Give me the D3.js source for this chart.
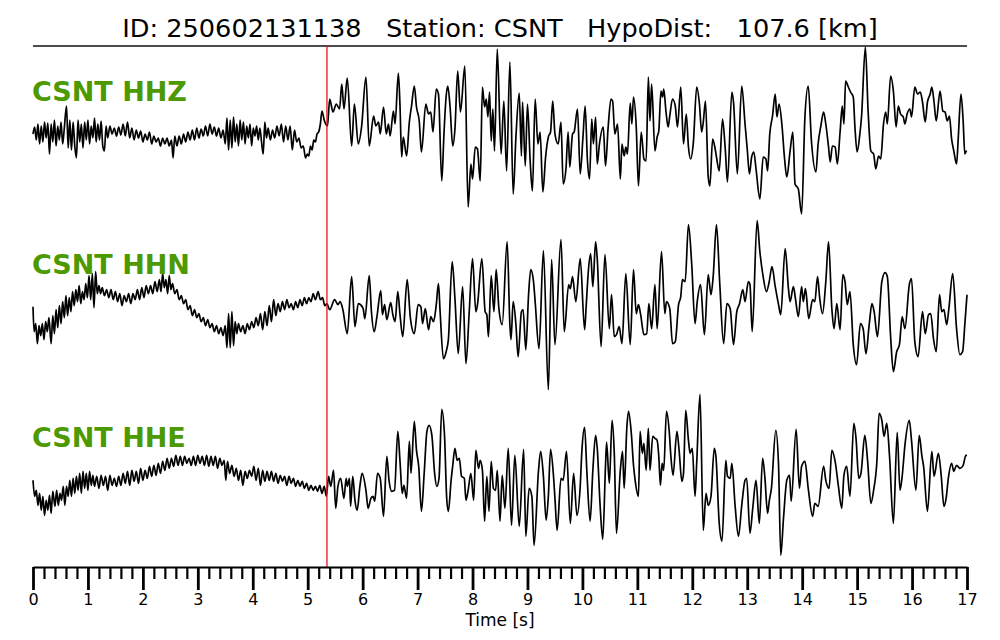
<!DOCTYPE html>
<html><head><meta charset="utf-8">
<script src="https://cdn.jsdelivr.net/npm/d3@7"></script>
<style>
body{margin:0;background:#fff;}
svg{display:block;font-family:"DejaVu Sans",sans-serif;}
</style></head><body>
<svg id="c" width="1000" height="640"></svg>
<script>
const titleText = "ID: 250602131138   Station: CSNT   HypoDist:   107.6 [km]";
const channels = ["CSNT HHZ", "CSNT HHN", "CSNT HHE"];
const pickTime = 5.35;
const majorTicks = [0,1,2,3,4,5,6,7,8,9,10,11,12,13,14,15,16,17];
const xLabel = "Time [s]";

// [time (s), amplitude] pairs
const hhz = [
[0.00,-2],[0.03,5],[0.06,-8],[0.09,8],[0.12,-12],[0.15,6],[0.18,-10],[0.21,10],[0.24,-6],[0.27,9],[0.30,-22],[0.33,8],[0.36,-10],[0.39,12],[0.42,-14],[0.45,6],[0.48,-8],[0.51,10],[0.54,-12],[0.57,4],[0.61,26],[0.64,-16],[0.67,12],[0.70,-18],[0.73,10],[0.76,-14],[0.79,-26],[0.82,12],[0.85,-10],[0.88,8],[0.91,-16],[0.94,10],[0.97,-8],[1.00,12],[1.03,-12],[1.06,6],[1.09,-6],[1.12,14],[1.15,-10],[1.18,8],[1.21,-8],[1.24,11],[1.27,-14],[1.30,-19],[1.33,6],[1.36,-6],[1.40,6],[1.44,-2],[1.48,4],[1.52,-4],[1.56,5],[1.60,-3],[1.64,8],[1.68,-4],[1.72,10],[1.76,-6],[1.80,4],[1.84,-8],[1.88,2],[1.92,-6],[1.96,1],[2.00,-10],[2.04,-2],[2.08,-8],[2.12,0],[2.16,-12],[2.20,-4],[2.24,-10],[2.28,-6],[2.32,-14],[2.36,-6],[2.40,-12],[2.44,-6],[2.48,-14],[2.52,-8],[2.55,-26],[2.58,-4],[2.62,-14],[2.66,-4],[2.70,-12],[2.74,-2],[2.78,-10],[2.82,0],[2.86,-8],[2.90,2],[2.94,-8],[2.98,4],[3.02,-6],[3.06,3],[3.10,-4],[3.14,6],[3.18,-4],[3.22,8],[3.26,-2],[3.30,5],[3.34,-4],[3.38,4],[3.42,-6],[3.46,2],[3.50,-12],[3.53,14],[3.56,-18],[3.59,12],[3.62,-16],[3.65,15],[3.68,-10],[3.71,8],[3.74,-14],[3.77,12],[3.80,-8],[3.83,10],[3.86,-12],[3.89,6],[3.92,-6],[3.95,8],[3.98,-14],[4.01,4],[4.04,-4],[4.07,6],[4.10,-8],[4.13,4],[4.16,-10],[4.19,-22],[4.22,10],[4.25,-6],[4.28,4],[4.32,-8],[4.36,2],[4.40,-6],[4.44,6],[4.48,-4],[4.52,8],[4.56,-10],[4.60,6],[4.64,-8],[4.68,6],[4.72,-18],[4.76,2],[4.80,-10],[4.84,-6],[4.88,-16],[4.92,-14],[4.96,-26],[4.99,-22],[5.02,-24],[5.05,-14],[5.08,-18],[5.11,-8],[5.14,-10],[5.17,-2],[5.20,0],[5.23,8],[5.26,21],[5.30,12],[5.36,6],[5.40,33],[5.46,20],[5.52,28],[5.58,23],[5.62,48],[5.66,23],[5.72,54],
[5.80,-14],[5.85,28],[5.92,-12],[5.98,5],[6.06,55],[6.12,-14],[6.20,16],[6.24,6],[6.29,10],[6.32,-2],[6.38,25],[6.43,-2],[6.47,8],[6.50,-4],[6.56,21],[6.59,8],[6.65,59],[6.68,26],[6.71,-25],[6.74,-5],[6.80,-24],[6.85,10],[6.89,26],[6.94,46],[6.98,25],[7.03,11],[7.07,-20],[7.15,28],[7.20,18],[7.24,20],[7.28,0],[7.34,43],[7.38,38],[7.44,-49],[7.48,-2],[7.52,36],[7.55,46],[7.59,26],[7.64,-14],[7.68,3],[7.73,61],[7.78,20],[7.86,66],[7.92,-75],[7.97,-32],[8.00,-47],[8.05,-15],[8.09,-17],[8.14,-49],[8.18,45],[8.22,25],[8.25,33],[8.28,15],[8.31,40],[8.34,-9],[8.37,23],[8.40,-19],[8.45,83],[8.52,-22],[8.57,31],[8.62,-39],[8.68,70],[8.74,-62],[8.79,-5],[8.85,39],[8.89,-24],[8.91,30],[8.96,-34],[9.00,28],[9.05,-30],[9.09,-59],[9.14,33],[9.19,-12],[9.23,0],[9.28,-60],[9.33,-25],[9.38,-5],[9.42,0],[9.46,31],[9.50,-2],[9.56,-12],[9.61,10],[9.65,-52],[9.70,-37],[9.74,0],[9.77,-35],[9.82,-2],[9.85,0],[9.91,23],[9.96,-42],[10.01,-5],[10.05,26],[10.09,-27],[10.13,-47],[10.17,13],[10.20,-12],[10.24,15],[10.27,-32],[10.31,-12],[10.38,5],[10.42,-34],[10.47,6],[10.52,33],[10.55,31],[10.59,-2],[10.64,8],[10.69,-47],[10.72,-12],[10.76,-24],[10.79,-15],[10.82,-22],[10.87,29],[10.90,8],[10.93,35],[10.98,5],[11.02,-54],[11.07,0],[11.12,-27],[11.16,-29],[11.20,55],[11.23,11],[11.26,48],[11.32,-19],[11.36,-5],[11.39,1],[11.43,41],[11.46,35],[11.48,43],[11.52,21],[11.56,5],[11.59,16],[11.64,33],[11.69,26],[11.73,5],[11.79,45],[11.84,-12],[11.89,18],[11.93,-15],[11.97,-27],[12.02,-10],[12.08,45],[12.13,28],[12.17,0],[12.20,10],[12.24,31],[12.29,-45],[12.32,-54],[12.37,-7],[12.41,-15],[12.44,-25],[12.49,-39],[12.55,13],[12.60,-17],[12.64,-50],[12.72,40],[12.75,30],[12.82,-42],[12.90,46],[12.96,8],[13.00,-17],[13.04,-42],[13.08,-25],[13.12,-20],[13.16,-37],[13.23,-67],[13.29,-25],[13.34,-27],[13.37,-39],[13.41,-2],[13.46,16],[13.51,38],[13.54,15],[13.58,28],[13.63,8],[13.68,-27],[13.72,-45],[13.78,-19],[13.83,0],[13.87,-52],[13.93,-57],[13.99,-82],[14.05,15],[14.11,46],[14.17,-10],[14.25,-40],[14.29,-12],[14.34,6],[14.39,20],[14.43,8],[14.48,-15],[14.51,-30],[14.55,-14],[14.60,-15],[14.64,-32],[14.69,0],[14.73,26],[14.76,8],[14.79,51],[14.84,45],[14.88,40],[14.93,35],[14.96,5],[15.00,-20],[15.05,-2],[15.08,15],[15.15,85],[15.20,21],[15.25,-19],[15.30,-22],[15.34,-37],[15.39,-24],[15.43,-27],[15.48,8],[15.52,20],[15.55,8],[15.61,56],[15.66,41],[15.71,5],[15.75,26],[15.79,18],[15.84,15],[15.87,8],[15.91,18],[15.96,23],[15.99,15],[16.05,45],[16.10,38],[16.15,40],[16.19,30],[16.24,10],[16.28,30],[16.33,38],[16.36,45],[16.40,30],[16.44,11],[16.51,41],[16.56,21],[16.60,20],[16.64,11],[16.68,16],[16.72,-7],[16.76,-19],[16.81,-32],[16.84,-7],[16.89,38],[16.93,11],[16.96,-22],[16.99,-19],[17.00,-19]
];

const hhn = [
[0.00,5],[0.02,-20],[0.05,-12],[0.08,-32],[0.11,-14],[0.14,-24],[0.17,-12],[0.20,-28],[0.23,-10],[0.26,-20],[0.29,-6],[0.33,-32],[0.36,-4],[0.39,-22],[0.42,2],[0.45,-16],[0.48,6],[0.51,-12],[0.54,10],[0.57,-6],[0.60,16],[0.63,-4],[0.66,14],[0.69,0],[0.72,20],[0.75,6],[0.78,22],[0.81,10],[0.84,26],[0.87,8],[0.90,20],[0.93,12],[0.96,28],[0.99,14],[1.02,36],[1.05,12],[1.08,38],[1.11,4],[1.14,40],[1.17,18],[1.20,26],[1.23,18],[1.26,24],[1.30,16],[1.34,22],[1.38,14],[1.42,22],[1.46,12],[1.50,20],[1.54,10],[1.58,18],[1.62,6],[1.66,16],[1.70,10],[1.74,18],[1.78,8],[1.82,18],[1.86,12],[1.90,22],[1.94,12],[1.98,24],[2.02,14],[2.06,26],[2.10,18],[2.14,26],[2.18,18],[2.22,30],[2.26,20],[2.30,32],[2.33,20],[2.36,38],[2.39,24],[2.42,32],[2.45,18],[2.48,36],[2.51,22],[2.54,28],[2.58,18],[2.62,22],[2.66,12],[2.70,16],[2.74,8],[2.78,12],[2.82,2],[2.86,6],[2.90,-4],[2.94,2],[2.98,-6],[3.02,-2],[3.06,-10],[3.10,-6],[3.14,-14],[3.18,-8],[3.22,-16],[3.26,-12],[3.30,-20],[3.34,-14],[3.38,-22],[3.42,-16],[3.46,-24],[3.50,-14],[3.53,-36],[3.56,-2],[3.59,-36],[3.62,0],[3.65,-34],[3.68,-10],[3.71,-22],[3.74,-12],[3.78,-20],[3.82,-14],[3.86,-22],[3.90,-12],[3.94,-18],[3.98,-10],[4.02,-16],[4.06,-6],[4.10,-14],[4.14,-2],[4.18,-18],[4.22,0],[4.26,-14],[4.30,6],[4.34,-10],[4.38,12],[4.42,-4],[4.46,8],[4.50,0],[4.54,10],[4.58,2],[4.62,12],[4.66,4],[4.70,8],[4.74,2],[4.78,10],[4.82,4],[4.86,12],[4.90,6],[4.94,14],[4.98,8],[5.02,14],[5.06,10],[5.10,18],[5.14,12],[5.19,20],[5.23,12],[5.27,14],[5.31,6],[5.35,8],[5.40,2],[5.49,12],[5.55,7],[5.59,10],[5.64,2],[5.72,-22],
[5.80,35],[5.86,-15],[5.92,8],[5.96,7],[6.01,3],[6.04,-7],[6.12,36],[6.16,0],[6.21,-20],[6.26,-5],[6.33,21],[6.36,-3],[6.40,7],[6.44,-8],[6.51,9],[6.55,-3],[6.59,-10],[6.64,20],[6.68,-3],[6.73,-25],[6.81,32],[6.87,-7],[6.94,-22],[7.01,7],[7.06,5],[7.09,-12],[7.14,3],[7.20,-18],[7.24,-5],[7.29,-10],[7.34,7],[7.38,28],[7.41,0],[7.47,-47],[7.52,-40],[7.56,-28],[7.63,50],[7.68,13],[7.74,-42],[7.82,25],[7.88,-52],[7.94,0],[8.00,53],[8.06,0],[8.09,7],[8.17,53],[8.23,0],[8.26,-3],[8.29,-25],[8.34,36],[8.39,0],[8.43,42],[8.48,3],[8.54,-13],[8.63,70],[8.68,-13],[8.70,-28],[8.74,10],[8.79,-13],[8.83,-45],[8.89,0],[8.92,2],[8.97,-38],[9.02,17],[9.06,42],[9.11,30],[9.14,10],[9.21,-37],[9.29,61],[9.38,-78],[9.44,52],[9.50,-33],[9.61,72],[9.67,-20],[9.75,27],[9.78,23],[9.82,35],[9.88,10],[9.96,53],[10.04,-18],[10.07,7],[10.11,42],[10.15,58],[10.19,25],[10.24,70],[10.27,53],[10.34,-35],[10.41,57],[10.49,-17],[10.53,17],[10.58,-25],[10.62,-23],[10.67,-15],[10.72,-32],[10.79,38],[10.87,-33],[10.93,42],[10.98,-2],[11.02,7],[11.06,-3],[11.12,-23],[11.17,-22],[11.21,8],[11.26,-17],[11.32,27],[11.36,-17],[11.44,60],[11.50,-2],[11.53,10],[11.59,3],[11.64,-32],[11.69,-30],[11.75,7],[11.79,15],[11.82,32],[11.87,30],[11.93,87],[11.99,47],[12.05,-12],[12.09,10],[12.15,27],[12.22,-23],[12.29,37],[12.34,17],[12.38,35],[12.44,87],[12.50,28],[12.57,-32],[12.63,8],[12.69,3],[12.75,-33],[12.81,0],[12.86,8],[12.92,22],[12.96,10],[13.02,30],[13.05,27],[13.09,-20],[13.18,91],[13.23,60],[13.29,35],[13.35,20],[13.40,30],[13.45,45],[13.51,25],[13.57,7],[13.61,-3],[13.69,63],[13.75,23],[13.78,10],[13.84,25],[13.88,12],[13.93,-5],[13.99,25],[14.02,10],[14.06,23],[14.12,-7],[14.19,12],[14.23,10],[14.28,35],[14.32,13],[14.37,-2],[14.43,30],[14.48,70],[14.54,3],[14.58,-17],[14.63,8],[14.69,-18],[14.74,37],[14.78,30],[14.82,7],[14.87,20],[14.93,-33],[14.99,-53],[15.06,-12],[15.11,-17],[15.16,-42],[15.22,-13],[15.27,8],[15.31,0],[15.37,-25],[15.45,30],[15.51,39],[15.55,35],[15.61,-25],[15.66,-60],[15.72,-40],[15.77,-33],[15.82,-5],[15.87,-17],[15.95,27],[15.99,33],[16.05,-30],[16.11,-45],[16.19,0],[16.24,-22],[16.30,-3],[16.34,-2],[16.39,-27],[16.44,-40],[16.50,17],[16.54,0],[16.58,2],[16.63,-13],[16.67,3],[16.74,38],[16.81,-17],[16.87,-43],[16.92,-40],[16.96,-13],[17.00,17]
];

const hhe = [
[0.00,3],[0.03,-13],[0.06,-7],[0.09,-22],[0.12,-10],[0.15,-27],[0.18,-13],[0.21,-32],[0.24,-17],[0.27,-27],[0.30,-12],[0.33,-30],[0.36,-8],[0.40,-23],[0.43,-7],[0.46,-22],[0.49,-10],[0.52,-17],[0.55,-3],[0.58,-22],[0.61,-3],[0.64,-13],[0.67,3],[0.70,-13],[0.73,5],[0.76,-10],[0.79,7],[0.82,-7],[0.85,10],[0.88,-10],[0.91,12],[0.94,-5],[0.97,10],[1.00,-7],[1.03,12],[1.06,-2],[1.09,8],[1.12,-3],[1.16,7],[1.20,-5],[1.24,8],[1.28,-2],[1.32,7],[1.36,-7],[1.40,8],[1.44,-2],[1.48,5],[1.52,-3],[1.56,7],[1.60,-2],[1.64,10],[1.68,0],[1.72,12],[1.76,-2],[1.80,13],[1.84,2],[1.88,12],[1.92,0],[1.96,15],[2.00,3],[2.04,13],[2.08,5],[2.12,17],[2.16,7],[2.20,18],[2.24,8],[2.28,20],[2.32,10],[2.36,22],[2.40,13],[2.44,25],[2.48,15],[2.52,25],[2.56,17],[2.60,28],[2.64,18],[2.68,27],[2.72,18],[2.76,27],[2.80,20],[2.84,25],[2.88,18],[2.92,27],[2.96,18],[3.00,28],[3.04,20],[3.08,27],[3.12,18],[3.16,28],[3.20,17],[3.24,27],[3.28,18],[3.32,27],[3.36,15],[3.40,25],[3.44,18],[3.48,23],[3.51,3],[3.54,22],[3.58,10],[3.62,18],[3.66,7],[3.70,15],[3.74,3],[3.78,13],[3.82,-2],[3.86,12],[3.90,5],[3.94,13],[3.98,7],[4.02,17],[4.06,3],[4.10,15],[4.14,-2],[4.18,13],[4.22,2],[4.26,12],[4.30,3],[4.34,12],[4.38,2],[4.42,10],[4.46,0],[4.50,8],[4.54,2],[4.58,7],[4.62,-2],[4.66,7],[4.70,0],[4.74,5],[4.78,-3],[4.82,3],[4.86,-3],[4.90,2],[4.94,-5],[4.98,0],[5.02,-7],[5.06,-2],[5.10,-7],[5.14,-3],[5.18,-8],[5.22,-2],[5.26,-10],[5.30,-3],[5.34,-13],[5.38,7],[5.42,-3],[5.47,13],[5.51,-25],[5.55,-3],[5.60,5],[5.66,-15],[5.70,5],[5.72,-3],[5.76,5],
[5.78,-23],[5.82,7],[5.86,-17],[5.90,-27],[5.95,-3],[5.99,10],[6.06,-7],[6.10,-25],[6.15,-15],[6.19,-13],[6.22,-18],[6.27,10],[6.32,5],[6.38,-33],[6.44,27],[6.48,3],[6.53,-8],[6.58,-7],[6.64,52],[6.68,22],[6.72,-10],[6.75,-2],[6.80,-15],[6.85,42],[6.88,10],[6.94,62],[6.98,33],[7.02,17],[7.07,-28],[7.12,10],[7.17,52],[7.21,58],[7.26,48],[7.31,10],[7.35,-3],[7.39,5],[7.44,74],[7.49,48],[7.53,-15],[7.56,-28],[7.61,3],[7.64,18],[7.68,35],[7.72,23],[7.76,25],[7.80,7],[7.85,5],[7.88,-17],[7.92,-7],[7.97,10],[8.02,-17],[8.06,33],[8.11,15],[8.14,23],[8.18,13],[8.22,-38],[8.26,7],[8.30,-28],[8.34,22],[8.38,-5],[8.42,-7],[8.45,13],[8.50,-38],[8.54,8],[8.59,-25],[8.65,35],[8.71,-42],[8.77,28],[8.85,-43],[8.93,34],[8.97,-53],[9.03,-5],[9.08,-13],[9.12,-62],[9.20,12],[9.24,32],[9.29,7],[9.34,-37],[9.38,-13],[9.42,34],[9.47,10],[9.50,-15],[9.54,-47],[9.61,5],[9.65,3],[9.71,32],[9.78,-40],[9.84,10],[9.90,-32],[9.96,-3],[9.99,32],[10.04,56],[10.08,13],[10.14,-38],[10.19,13],[10.24,48],[10.27,35],[10.32,-20],[10.37,-56],[10.42,17],[10.44,41],[10.49,0],[10.54,63],[10.58,30],[10.62,-50],[10.69,13],[10.73,32],[10.76,-5],[10.81,57],[10.84,72],[10.89,50],[10.93,18],[10.96,3],[11.02,-13],[11.05,52],[11.09,30],[11.12,40],[11.16,13],[11.20,55],[11.23,13],[11.28,47],[11.32,45],[11.36,43],[11.39,27],[11.42,-2],[11.45,20],[11.48,13],[11.53,72],[11.58,52],[11.61,27],[11.65,8],[11.72,52],[11.76,33],[11.81,2],[11.84,10],[11.88,73],[11.93,43],[11.96,30],[12.00,35],[12.05,-13],[12.08,20],[12.14,89],[12.20,-47],[12.25,-10],[12.29,-22],[12.34,-13],[12.40,35],[12.43,27],[12.49,-40],[12.54,-58],[12.61,23],[12.64,7],[12.69,5],[12.72,20],[12.78,-23],[12.84,-53],[12.90,-22],[12.96,3],[12.99,5],[13.05,-50],[13.10,-25],[13.16,3],[13.22,-40],[13.28,25],[13.32,7],[13.37,-30],[13.40,-18],[13.44,-5],[13.52,53],[13.57,18],[13.61,-72],[13.66,-35],[13.72,3],[13.77,8],[13.80,-18],[13.89,54],[13.95,-5],[13.99,17],[14.05,22],[14.11,-5],[14.19,-33],[14.23,-20],[14.29,-23],[14.39,17],[14.43,3],[14.49,-5],[14.54,33],[14.60,22],[14.66,-3],[14.72,-25],[14.76,8],[14.81,17],[14.87,-13],[14.94,60],[14.98,45],[15.03,5],[15.07,10],[15.14,48],[15.19,23],[15.25,-20],[15.30,-7],[15.36,22],[15.40,70],[15.45,63],[15.49,47],[15.54,60],[15.59,27],[15.66,-40],[15.73,51],[15.78,-7],[15.82,7],[15.87,38],[15.95,63],[15.99,43],[16.07,-7],[16.13,48],[16.18,27],[16.21,17],[16.28,-28],[16.36,32],[16.40,7],[16.48,30],[16.53,8],[16.58,-23],[16.62,-15],[16.66,5],[16.72,20],[16.76,12],[16.81,18],[16.87,15],[16.93,18],[16.98,28],[17.00,28]
];

const traces = [hhz, hhn, hhe];

// ---- layout ----
const plotLeft = 33, plotRight = 967, plotTop = 46, axisY = 567;
const centers = [132, 311.7, 483.3];
const labelBaselines = [101, 274, 447];
const green = "#4c9900";

const svg = d3.select("#c");
const x = d3.scaleLinear().domain([0, 17]).range([plotLeft, plotRight]);

// title
svg.append("text")
  .attr("x", (plotLeft + plotRight) / 2).attr("y", 37)
  .attr("text-anchor", "middle")
  .style("white-space", "pre")
  .attr("font-size", 25.6)
  .attr("fill", "#000")
  .text(titleText);

// top line
svg.append("line")
  .attr("x1", plotLeft).attr("x2", plotRight)
  .attr("y1", plotTop).attr("y2", plotTop)
  .attr("stroke", "#111").attr("stroke-width", 1.5);

// traces
traces.forEach((data, i) => {
  const y = d3.scaleLinear().domain([-100, 100]).range([centers[i] + 100, centers[i] - 100]);
  const line = d3.line().x(d => x(d[0])).y(d => y(d[1])).curve(d3.curveMonotoneX);
  svg.append("path")
    .datum(data)
    .attr("d", line)
    .attr("fill", "none")
    .attr("stroke", "#000")
    .attr("stroke-width", 1.7)
    .attr("stroke-linejoin", "round");
  svg.append("text")
    .attr("x", plotLeft - 1).attr("y", labelBaselines[i])
    .attr("font-size", 27).attr("font-weight", "bold")
    .attr("fill", green)
    .text(channels[i]);
});

// pick line
svg.append("line")
  .attr("x1", x(pickTime)).attr("x2", x(pickTime))
  .attr("y1", plotTop).attr("y2", axisY)
  .attr("stroke", "#e8141c").attr("stroke-width", 1.3);

// axis: minor ticks
const minorTicks = d3.range(0, 86).map(i => i / 5).filter(v => Math.abs(v - Math.round(v)) > 1e-6);
const gMinor = svg.append("g").attr("transform", `translate(0,${axisY})`)
  .call(d3.axisBottom(x).tickValues(minorTicks).tickSize(12).tickSizeOuter(0).tickFormat(""));
gMinor.select(".domain").remove();
gMinor.selectAll("line").attr("stroke", "#000").attr("stroke-width", 2.2);

const gAxis = svg.append("g").attr("transform", `translate(0,${axisY})`)
  .call(d3.axisBottom(x).tickValues(majorTicks).tickSize(23).tickSizeOuter(0).tickPadding(4).tickFormat(d3.format("d")));
gAxis.select(".domain").attr("stroke", "#000").attr("stroke-width", 2.2);
gAxis.selectAll(".tick line").attr("stroke", "#000").attr("stroke-width", 2.8);
gAxis.selectAll(".tick text").attr("font-size", 16).attr("fill", "#000").attr("font-family", "DejaVu Sans");

svg.append("text")
  .attr("x", (plotLeft + plotRight) / 2).attr("y", 626)
  .attr("text-anchor", "middle")
  .attr("font-size", 17)
  .attr("fill", "#000")
  .text(xLabel);
</script>
</body></html>
